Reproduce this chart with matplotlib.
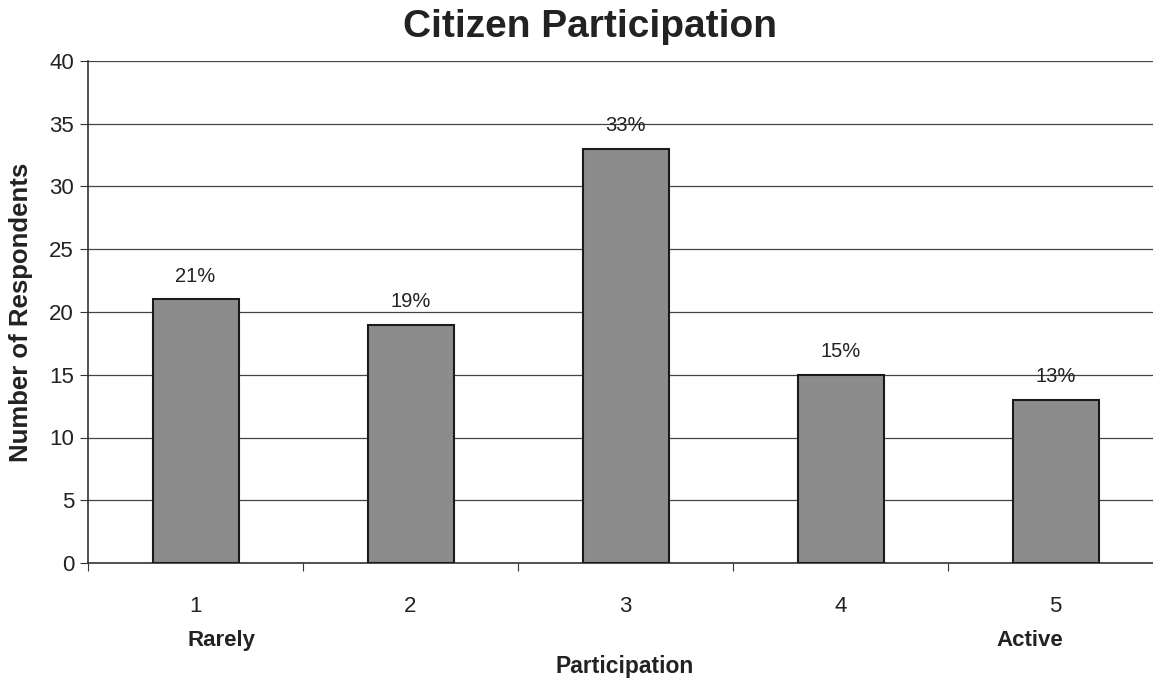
import matplotlib.pyplot as plt
import numpy as np

plt.rcParams['font.family'] = ['Liberation Sans', 'DejaVu Sans']

categories = ["1", "2", "3", "4", "5"]
respondents = [21, 19, 33, 15, 13]
pct_labels = ["21%", "19%", "33%", "15%", "13%"]
scale_ends = ["Rarely", "Active"]

W, H = 1153, 680
fig = plt.figure(figsize=(W / 100, H / 100), dpi=100)
# plot area runs a little past the right edge of the picture, as in the original
ax = fig.add_axes([88 / W, 1 - 563 / H, 1075 / W, 502 / H])

txt = "#222222"
x = np.arange(len(categories))
bars = ax.bar(x, respondents, width=0.4, color="#8c8c8c", edgecolor="#1a1a1a",
              linewidth=1.5, zorder=3)

for b, lab in zip(bars, pct_labels):
    ax.annotate(lab, (b.get_x() + b.get_width() / 2, b.get_height()),
                xytext=(0, 10), textcoords="offset points", ha="center",
                va="bottom", fontsize=14.5, color=txt)

ax.set_xlim(-0.5, len(categories) - 0.5)
ax.set_ylim(0, 40)
ax.set_yticks(range(0, 41, 5))
ax.yaxis.grid(True, color="#444444", linewidth=0.9, zorder=0)
ax.set_axisbelow(True)

# category ticks sit between the bars, labels sit under the bars
ax.set_xticks(np.arange(-0.5, len(categories), 1.0))
ax.set_xticklabels([])
ax.set_xticks(x, minor=True)
ax.set_xticklabels(categories, minor=True)
ax.tick_params(axis="x", which="minor", length=0, pad=24, labelsize=16, labelcolor=txt)
ax.tick_params(axis="x", which="major", length=6, color="#333333", direction="out")
ax.tick_params(axis="y", length=6, color="#333333", labelsize=16, labelcolor=txt, pad=4)

# "Rarely" / "Active" sit a bit inward from the first and last bars
ax.text(0.12, -6.2, scale_ends[0], ha="center", va="center", fontsize=16,
        fontweight="bold", color=txt)
ax.text(len(categories) - 1.12, -6.2, scale_ends[1], ha="center", va="center",
        fontsize=16, fontweight="bold", color=txt)

for s in ["top", "right"]:
    ax.spines[s].set_visible(False)
for s in ["left", "bottom"]:
    ax.spines[s].set_color("#333333")
    ax.spines[s].set_linewidth(1.2)

ax.set_ylabel("Number of Respondents", fontsize=18.5, fontweight="bold", color=txt, labelpad=12)
fig.text(625 / W, 1 - 667 / H, "Participation", ha="center", va="center",
         fontsize=16.5, fontweight="bold", color=txt)
fig.text(590 / W, 1 - 27 / H, "Citizen Participation", ha="center", va="center",
         fontsize=28, fontweight="bold", color=txt)

fig.savefig("out.png", dpi=100)
